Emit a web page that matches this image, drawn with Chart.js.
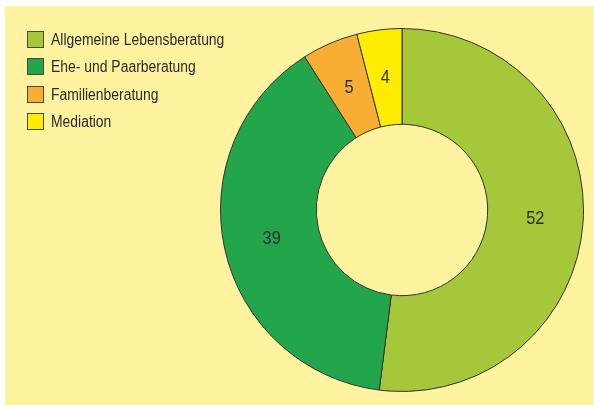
<!DOCTYPE html>
<html>
<head>
<meta charset="utf-8">
<script src="https://cdn.jsdelivr.net/npm/chart.js@4"></script>
<style>
  html, body { margin: 0; padding: 0; background: #fff; }
  #wrap { position: relative; width: 594px; height: 405px; }
  #panel { position: absolute; left: 5px; top: 6px; right: 0; bottom: 0; background: #FFF3A0; }
  canvas { position: absolute; left: 0; top: 0; }
  #legend { position: absolute; left: 27px; top: 31px; margin: 0; padding: 0; list-style: none;
            font-family: "Liberation Sans", Arial, sans-serif; font-size: 16px; color: #2a2a2a; }
  #legend li { height: 27.3px; display: flex; align-items: flex-start; white-space: nowrap; }
  #legend span.box { display: inline-block; width: 15px; height: 15px; border: 1px solid #4a4a3a; margin-right: 7px; }
  #legend span.txt { line-height: 17px; display: inline-block; transform: scaleX(0.87); transform-origin: 0 50%; }
</style>
</head>
<body>
<div id="wrap">
  <div id="panel"></div>
  <canvas id="donut" width="594" height="405"></canvas>
  <ul id="legend"></ul>
</div>
<script>
// DATEN
const categories = ['Allgemeine Lebensberatung', 'Ehe- und Paarberatung', 'Familienberatung', 'Mediation'];
const values = [52, 39, 5, 4];
const colors = ['#A5C73A', '#23A64B', '#F8AE33', '#FFEC00'];

// LEGENDE
const legend = document.getElementById('legend');
categories.forEach((c, i) => {
    const li = document.createElement('li');
    li.innerHTML = '<span class="box" style="background:' + colors[i] + '"></span><span class="txt">' + c + '</span>';
    legend.appendChild(li);
});

// WERTE IN DEN SEGMENTEN
const valueLabels = {
    id: 'valueLabels',
    afterDatasetsDraw(chart) {
        const ctx = chart.ctx;
        const meta = chart.getDatasetMeta(0);
        meta.data.forEach((arc, i) => {
            const p = arc.tooltipPosition();
            ctx.save();
            ctx.translate(p.x, p.y);
            ctx.scale(0.86, 1);
            ctx.font = '19px "Liberation Sans", Arial, sans-serif';
            ctx.fillStyle = '#2e2e2e';
            ctx.textAlign = 'center';
            ctx.textBaseline = 'middle';
            ctx.fillText(String(values[i]), 0, 0);
            ctx.restore();
        });
    }
};

const donutChart = new Chart(
    document.getElementById('donut'),
    {
        type: 'doughnut',
        data: {
            labels: categories,
            datasets: [{
                data: values,
                backgroundColor: colors,
                borderColor: '#333333',
                borderWidth: 1
            }]
        },
        options: {
            responsive: false,
            animation: false,
            cutout: '47.2%',
            layout: { padding: { left: 220, right: 10, top: 28, bottom: 13 } },
            plugins: {
                legend: { display: false },
                tooltip: { enabled: false }
            }
        },
        plugins: [valueLabels]
    }
);
</script>
</body>
</html>
